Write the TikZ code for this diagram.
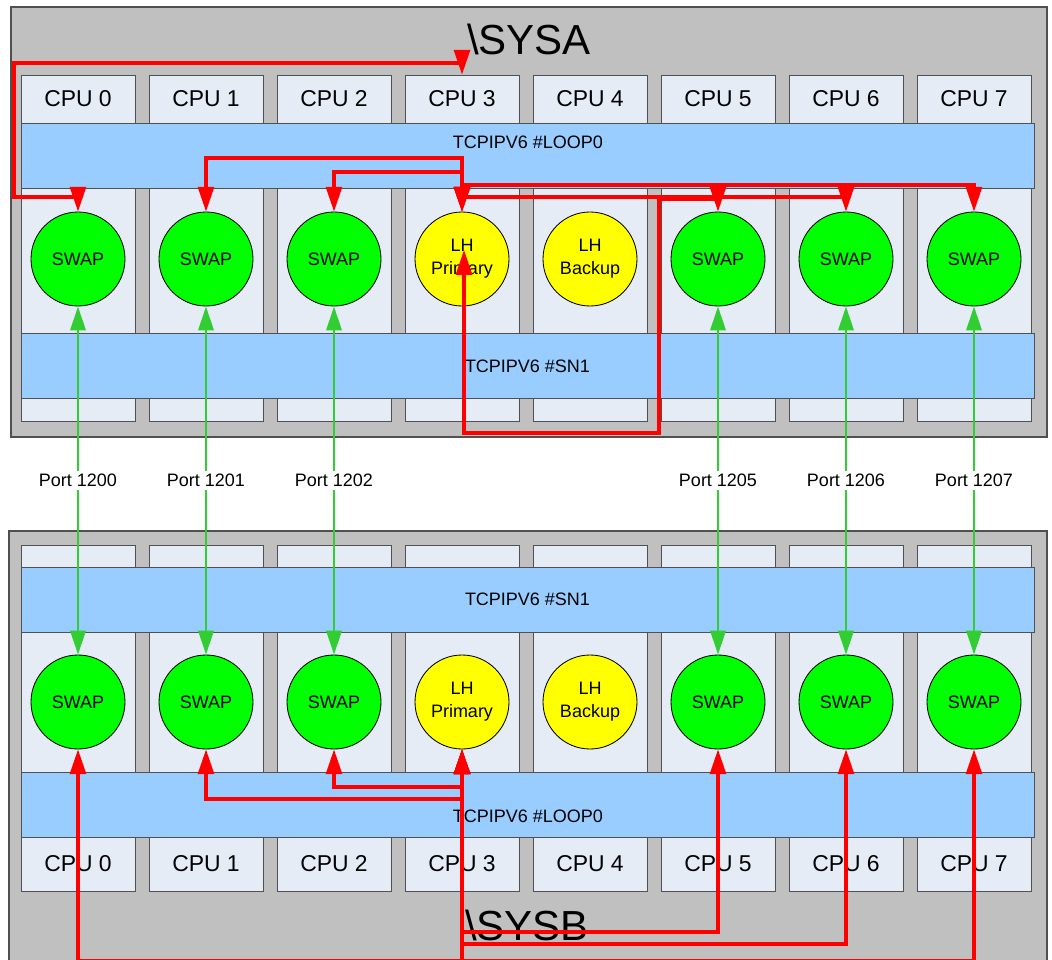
\documentclass[tikz,border=0pt]{standalone}
\usepackage{fontspec}
\setmainfont{Liberation Sans}
\usetikzlibrary{arrows.meta, positioning}
\definecolor{SysGray}{RGB}{192,192,192}
\definecolor{EdgeGray}{RGB}{80,80,80}
\definecolor{ColFill}{RGB}{230,236,246}
\definecolor{NetBlue}{RGB}{153,204,255}
\definecolor{SwapGreen}{RGB}{0,255,0}
\definecolor{LHYellow}{RGB}{255,255,0}
\definecolor{LinkRed}{RGB}{255,0,0}
\definecolor{PortGreen}{RGB}{50,205,50}
\begin{document}
\begin{tikzpicture}[
  sysbox/.style={draw=EdgeGray, fill=SysGray, line width=0.8pt, minimum width=25.9cm, minimum height=10.75cm},
  colbox/.style={draw=EdgeGray, fill=ColFill, line width=0.6pt, minimum width=2.85cm, minimum height=8.65cm},
  cpu/.style={colbox, minimum height=1.2cm, font=\fontsize{16.3}{18}\selectfont},
  band/.style={draw=EdgeGray, fill=NetBlue, line width=0.6pt, minimum width=25.325cm, minimum height=1.625cm, font=\fontsize{12.8}{15}\selectfont},
  txt/.style={font=\fontsize{12.8}{15}\selectfont, inner sep=0pt},
  systitle/.style={font=\fontsize{29.9}{34}\selectfont, inner sep=0pt},
  swapnode/.style={circle, draw=black, fill=SwapGreen, line width=0.6pt, minimum size=2.35cm, inner sep=0pt, align=center, font=\fontsize{12.8}{16.4}\selectfont},
  lh/.style={swapnode, fill=LHYellow, text depth=0.1cm},
  port/.style={fill=white, text=black, inner sep=2pt, font=\fontsize{12.8}{15}\selectfont},
  rarr/.style={{Triangle[length=0.62cm, width=0.4cm]}-{Triangle[length=0.62cm, width=0.4cm]}, LinkRed, line width=2.2pt},
  garr/.style={{Triangle[length=0.6cm, width=0.38cm]}-{Triangle[length=0.6cm, width=0.38cm]}, PortGreen, line width=2.1pt}]
\useasboundingbox (0,0) rectangle (26.3,-24);
% SYSA
\node[sysbox] (sysA) at (13.225,-5.55) {};
\node[systitle] (titleA) at (13.225,-0.975) {\textbackslash SYSA};
\node[colbox] (colA0) at (1.95,-6.2) {}; \node[cpu, below=0pt of colA0.north] (cpuA0) {CPU 0};
\node[colbox] (colA1) at (5.15,-6.2) {}; \node[cpu, below=0pt of colA1.north] (cpuA1) {CPU 1};
\node[colbox] (colA2) at (8.35,-6.2) {}; \node[cpu, below=0pt of colA2.north] (cpuA2) {CPU 2};
\node[colbox] (colA3) at (11.55,-6.2) {}; \node[cpu, below=0pt of colA3.north] (cpuA3) {CPU 3};
\node[colbox] (colA4) at (14.75,-6.2) {}; \node[cpu, below=0pt of colA4.north] (cpuA4) {CPU 4};
\node[colbox] (colA5) at (17.95,-6.2) {}; \node[cpu, below=0pt of colA5.north] (cpuA5) {CPU 5};
\node[colbox] (colA6) at (21.15,-6.2) {}; \node[cpu, below=0pt of colA6.north] (cpuA6) {CPU 6};
\node[colbox] (colA7) at (24.35,-6.2) {}; \node[cpu, below=0pt of colA7.north] (cpuA7) {CPU 7};
\node[band] (loopA) at (13.1875,-3.8875) {};
\node[txt] (loopAtxt) at (13.2,-3.5625) {TCPIPV6 \#LOOP0};
\node[band] (snA) at (13.1875,-9.15) {TCPIPV6 \#SN1};
\node[swapnode] (swapA0) at (1.95,-6.475) {SWAP};
\node[swapnode] (swapA1) at (5.15,-6.475) {SWAP};
\node[swapnode] (swapA2) at (8.35,-6.475) {SWAP};
\node[lh] (lhA) at (11.55,-6.475) {LH\\Primary};
\node[lh] (bkA) at (14.75,-6.475) {LH\\Backup};
\node[swapnode] (swapA5) at (17.95,-6.475) {SWAP};
\node[swapnode] (swapA6) at (21.15,-6.475) {SWAP};
\node[swapnode] (swapA7) at (24.35,-6.475) {SWAP};
% SYSB
\node[sysbox, minimum width=25.95cm, minimum height=11.1cm] (sysB) at (13.2,-18.825) {};
\node[systitle] (titleB) at (13.175,-23.125) {\textbackslash SYSB};
\node[colbox] (colB0) at (1.95,-17.95) {}; \node[cpu, minimum height=1.35cm, above=0pt of colB0.south] (cpuB0) {CPU 0};
\node[colbox] (colB1) at (5.15,-17.95) {}; \node[cpu, minimum height=1.35cm, above=0pt of colB1.south] (cpuB1) {CPU 1};
\node[colbox] (colB2) at (8.35,-17.95) {}; \node[cpu, minimum height=1.35cm, above=0pt of colB2.south] (cpuB2) {CPU 2};
\node[colbox] (colB3) at (11.55,-17.95) {}; \node[cpu, minimum height=1.35cm, above=0pt of colB3.south] (cpuB3) {CPU 3};
\node[colbox] (colB4) at (14.75,-17.95) {}; \node[cpu, minimum height=1.35cm, above=0pt of colB4.south] (cpuB4) {CPU 4};
\node[colbox] (colB5) at (17.95,-17.95) {}; \node[cpu, minimum height=1.35cm, above=0pt of colB5.south] (cpuB5) {CPU 5};
\node[colbox] (colB6) at (21.15,-17.95) {}; \node[cpu, minimum height=1.35cm, above=0pt of colB6.south] (cpuB6) {CPU 6};
\node[colbox] (colB7) at (24.35,-17.95) {}; \node[cpu, minimum height=1.35cm, above=0pt of colB7.south] (cpuB7) {CPU 7};
\node[band] (snB) at (13.1875,-14.9875) {TCPIPV6 \#SN1};
\node[band] (loopB) at (13.1875,-20.1125) {};
\node[txt] (loopBtxt) at (13.2,-20.4) {TCPIPV6 \#LOOP0};
\node[swapnode] (swapB0) at (1.95,-17.55) {SWAP};
\node[swapnode] (swapB1) at (5.15,-17.55) {SWAP};
\node[swapnode] (swapB2) at (8.35,-17.55) {SWAP};
\node[lh] (lhB) at (11.55,-17.55) {LH\\Primary};
\node[lh] (bkB) at (14.75,-17.55) {LH\\Backup};
\node[swapnode] (swapB5) at (17.95,-17.55) {SWAP};
\node[swapnode] (swapB6) at (21.15,-17.55) {SWAP};
\node[swapnode] (swapB7) at (24.35,-17.55) {SWAP};
% loopback links
\draw[rarr] (cpuA3.north) |- (0.35,-1.575) |- (1.95,-4.925) -- (swapA0.north);
\draw[rarr] (lhA.north) |- (5.15,-3.95) -- (swapA1.north);
\draw[rarr] (lhA.north) |- (8.35,-4.3) -- (swapA2.north);
\draw[rarr] (lhA.north) |- (24.35,-4.625) -- (swapA7.north);
\draw[rarr] (lhA.north) |- (21.15,-4.925) -- (swapA6.north);
\coordinate (lhAin) at (11.6,-6.25);
\draw[rarr] (lhAin) |- (16.475,-10.825) |- (17.95,-4.975) -- (swapA5.north);
\draw[rarr] (lhB.south) |- (5.15,-19.975) -- (swapB1.south);
\draw[rarr] (lhB.south) |- (8.35,-19.675) -- (swapB2.south);
\draw[rarr] (lhB.south) |- (17.95,-23.3) -- (swapB5.south);
\draw[rarr] (lhB.south) |- (21.15,-23.6) -- (swapB6.south);
\draw[rarr] (lhB.south) |- (1.95,-24.0125) -- (swapB0.south);
\draw[rarr] (lhB.south) |- (24.35,-24.0125) -- (swapB7.south);
% ports
\draw[garr] (swapA0) -- node[port] (p1200) {Port 1200} (swapB0);
\draw[garr] (swapA1) -- node[port] (p1201) {Port 1201} (swapB1);
\draw[garr] (swapA2) -- node[port] (p1202) {Port 1202} (swapB2);
\draw[garr] (swapA5) -- node[port] (p1205) {Port 1205} (swapB5);
\draw[garr] (swapA6) -- node[port] (p1206) {Port 1206} (swapB6);
\draw[garr] (swapA7) -- node[port] (p1207) {Port 1207} (swapB7);
\end{tikzpicture}
\end{document}
